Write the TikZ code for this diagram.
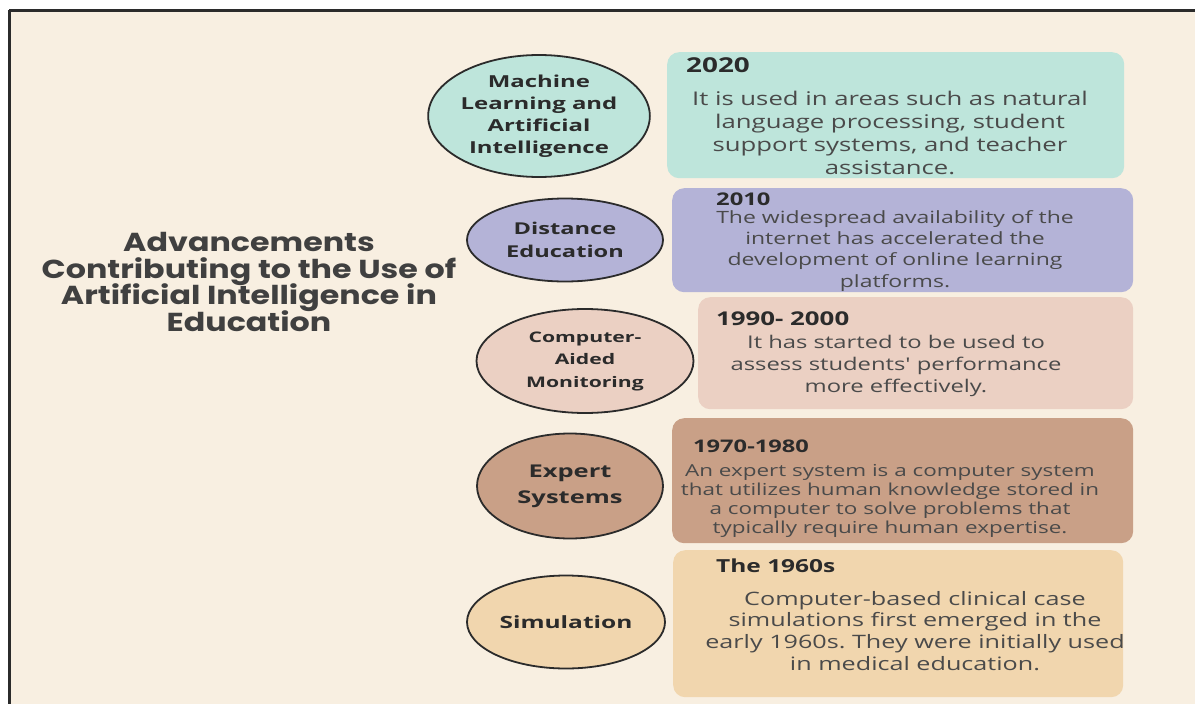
\documentclass[tikz,border=0pt]{standalone}
\usepackage{fontspec}
\setmainfont{Open Sans}
\newfontfamily\bodyf[FakeStretch=1.36]{Open Sans}
\newfontfamily\ovalf[FakeStretch=1.45]{Open Sans}
\newfontfamily\titlef[FakeStretch=1.22]{Poppins}
\newcommand\tightlines{\lineskiplimit-100pt\relax\lineskip0pt\relax}
\newcommand\titlestyle{\titlef\bfseries\fontsize{26}{26.5}\selectfont\tightlines}
\usetikzlibrary{shapes.geometric}
\definecolor{bgc}{HTML}{F8EFE1}
\definecolor{teal1}{HTML}{BEE5DB}
\definecolor{purp1}{HTML}{B4B3D7}
\definecolor{pink1}{HTML}{EBD0C3}
\definecolor{brown1}{HTML}{C9A087}
\definecolor{tan1}{HTML}{F1D6AE}
\definecolor{txt}{HTML}{4A4A4A}
\definecolor{dark}{HTML}{2B2B2B}
\tikzset{
  oval/.style={ellipse, draw=dark, line width=1.8pt, inner sep=0pt, align=center, text=dark},
  card/.style={rounded corners=12pt, inner sep=0pt, anchor=north west},
  year/.style={anchor=base west, text=dark, inner sep=0pt},
  body/.style={anchor=north, align=center, text=txt, inner sep=0pt},
}
\frenchspacing
\begin{document}
\begin{tikzpicture}[x=1pt,y=-1pt]
\useasboundingbox (0,0) rectangle (1195,704);
\fill[bgc] (10,11) rectangle (1195,704);
\draw[dark, line width=3pt] (9,10) -- (1195,10);
\draw[dark, line width=3pt] (9,10) -- (9,704);

% title
\node[align=center, font=\titlestyle, text=dark!90, inner sep=0pt] (title) at (249,282)
  {Advancements\\Contributing to the Use of\\Artificial Intelligence in\\Education};

% cards
\node[card, fill=teal1, minimum width=457pt, minimum height=126pt] (c1) at (667,52) {};
\node[card, fill=purp1, minimum width=461pt, minimum height=104pt] (c2) at (672,188) {};
\node[card, fill=pink1, minimum width=435pt, minimum height=112pt] (c3) at (698,297) {};
\node[card, fill=brown1, minimum width=461pt, minimum height=125pt] (c4) at (672,418) {};
\node[card, fill=tan1, minimum width=450pt, minimum height=147pt] (c5) at (673,550) {};

% years
\node[year, font=\bodyf\bfseries\fontsize{20.5}{22}\selectfont] (y1) at (686,72) {2020};
\node[year, font=\bodyf\bfseries\fontsize{17.5}{19}\selectfont] (y2) at (716,205) {2010};
\node[year, font=\bodyf\bfseries\fontsize{19}{21}\selectfont] (y3) at (716,325) {1990- 2000};
\node[year, font=\bodyf\bfseries\fontsize{17.4}{19}\selectfont] (y4) at (693,452) {1970-1980};
\node[year, font=\bodyf\bfseries\fontsize{18}{19}\selectfont] (y5) at (716,572) {The 1960s};

% bodies
\node[body, font=\bodyf\fontsize{18.9}{23}\selectfont] (b1) at (890,91)
  {It is used in areas such as natural\\language processing, student\\support systems, and teacher\\assistance.};
\node[body, font=\bodyf\fontsize{16.9}{21.3}\selectfont] (b2) at (895,210)
  {The widespread availability of the\\internet has accelerated the\\development of online learning\\platforms.};
\node[body, font=\bodyf\fontsize{17.5}{22}\selectfont] (b3) at (896,335)
  {It has started to be used to\\assess students' performance\\more effectively.};
\node[body, font=\bodyf\fontsize{16.5}{19.2}\selectfont] (b4) at (890,464)
  {An expert system is a computer system\\that utilizes human knowledge stored in\\a computer to solve problems that\\typically require human expertise.};
\node[body, font=\bodyf\fontsize{18.5}{21.7}\selectfont] (b5) at (915,591)
  {Computer-based clinical case\\simulations first emerged in the\\early 1960s. They were initially used\\in medical education.};

% ovals
\node[oval, fill=teal1, minimum width=208pt, minimum height=122pt, font=\ovalf\bfseries\fontsize{16.5}{22}\selectfont] (e1) at (539,116)
  {Machine\\Learning and\\Artificial\\Intelligence};
\node[oval, fill=purp1, minimum width=196pt, minimum height=83pt, font=\ovalf\bfseries\fontsize{16.3}{23}\selectfont] (e2) at (565,240)
  {Distance\\Education};
\node[oval, fill=pink1, minimum width=217pt, minimum height=104pt, font=\ovalf\bfseries\fontsize{14.6}{22.5}\selectfont] (e3) at (585,361)
  {Computer-\\Aided\\Monitoring};
\node[oval, fill=brown1, minimum width=186pt, minimum height=105pt, font=\ovalf\bfseries\fontsize{17.6}{26}\selectfont] (e4) at (570,486)
  {Expert\\Systems};
\node[oval, fill=tan1, minimum width=198pt, minimum height=93pt, font=\ovalf\bfseries\fontsize{16.9}{22}\selectfont] (e5) at (566,622)
  {Simulation};
\end{tikzpicture}
\end{document}
